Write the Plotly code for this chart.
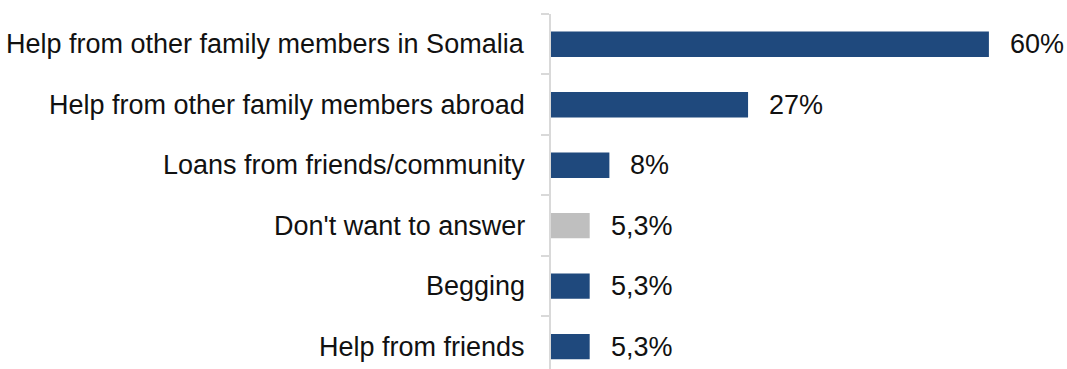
import plotly.graph_objects as go

# Sources of support, top to bottom
categories = [
    "Help from other family members in Somalia",
    "Help from other family members abroad",
    "Loans from friends/community",
    "Don't want to answer",
    "Begging",
    "Help from friends",
]
values = [60, 27, 8, 5.3, 5.3, 5.3]
value_labels = ["60%", "27%", "8%", "5,3%", "5,3%", "5,3%"]

NAVY = "#1f497d"
GREY = "#bfbfbf"
colors = [GREY if c == "Don't want to answer" else NAVY for c in categories]

positions = list(range(len(categories)))
font_family = "Liberation Sans, Arial, sans-serif"
font_size = 27

fig = go.Figure(
    go.Bar(
        x=values,
        y=positions,
        orientation="h",
        marker=dict(color=colors, line=dict(width=0)),
        width=0.42,
        hoverinfo="skip",
    )
)

# value labels to the right of each bar
for p, v, t in zip(positions, values, value_labels):
    fig.add_annotation(
        x=v, y=p, xref="x", yref="y", text=t, showarrow=False,
        xanchor="left", yanchor="middle", xshift=19,
        font=dict(family=font_family, size=font_size, color="#111111"),
    )

# category labels left of the axis
for p, c in zip(positions, categories):
    fig.add_annotation(
        x=0, y=p, xref="paper", yref="y", text=c, showarrow=False,
        xanchor="right", yanchor="middle", xshift=-24,
        font=dict(family=font_family, size=font_size, color="#111111"),
    )

fig.update_layout(
    width=1067,
    height=369,
    margin=dict(l=551, r=0, t=14, b=0),
    paper_bgcolor="white",
    plot_bgcolor="white",
    showlegend=False,
    bargap=0.58,
    xaxis=dict(range=[0, 70.7], visible=False, fixedrange=True),
    yaxis=dict(
        range=[5.37, -0.5],
        tickmode="array",
        tickvals=[-0.5, 0.5, 1.5, 2.5, 3.5, 4.5],
        ticktext=[""] * 6,
        ticks="outside",
        ticklen=8,
        tickwidth=1.5,
        tickcolor="#d9d9d9",
        showline=True,
        linecolor="#d9d9d9",
        linewidth=1.5,
        showgrid=False,
        zeroline=False,
        fixedrange=True,
    ),
)

fig.write_html("out.html")
